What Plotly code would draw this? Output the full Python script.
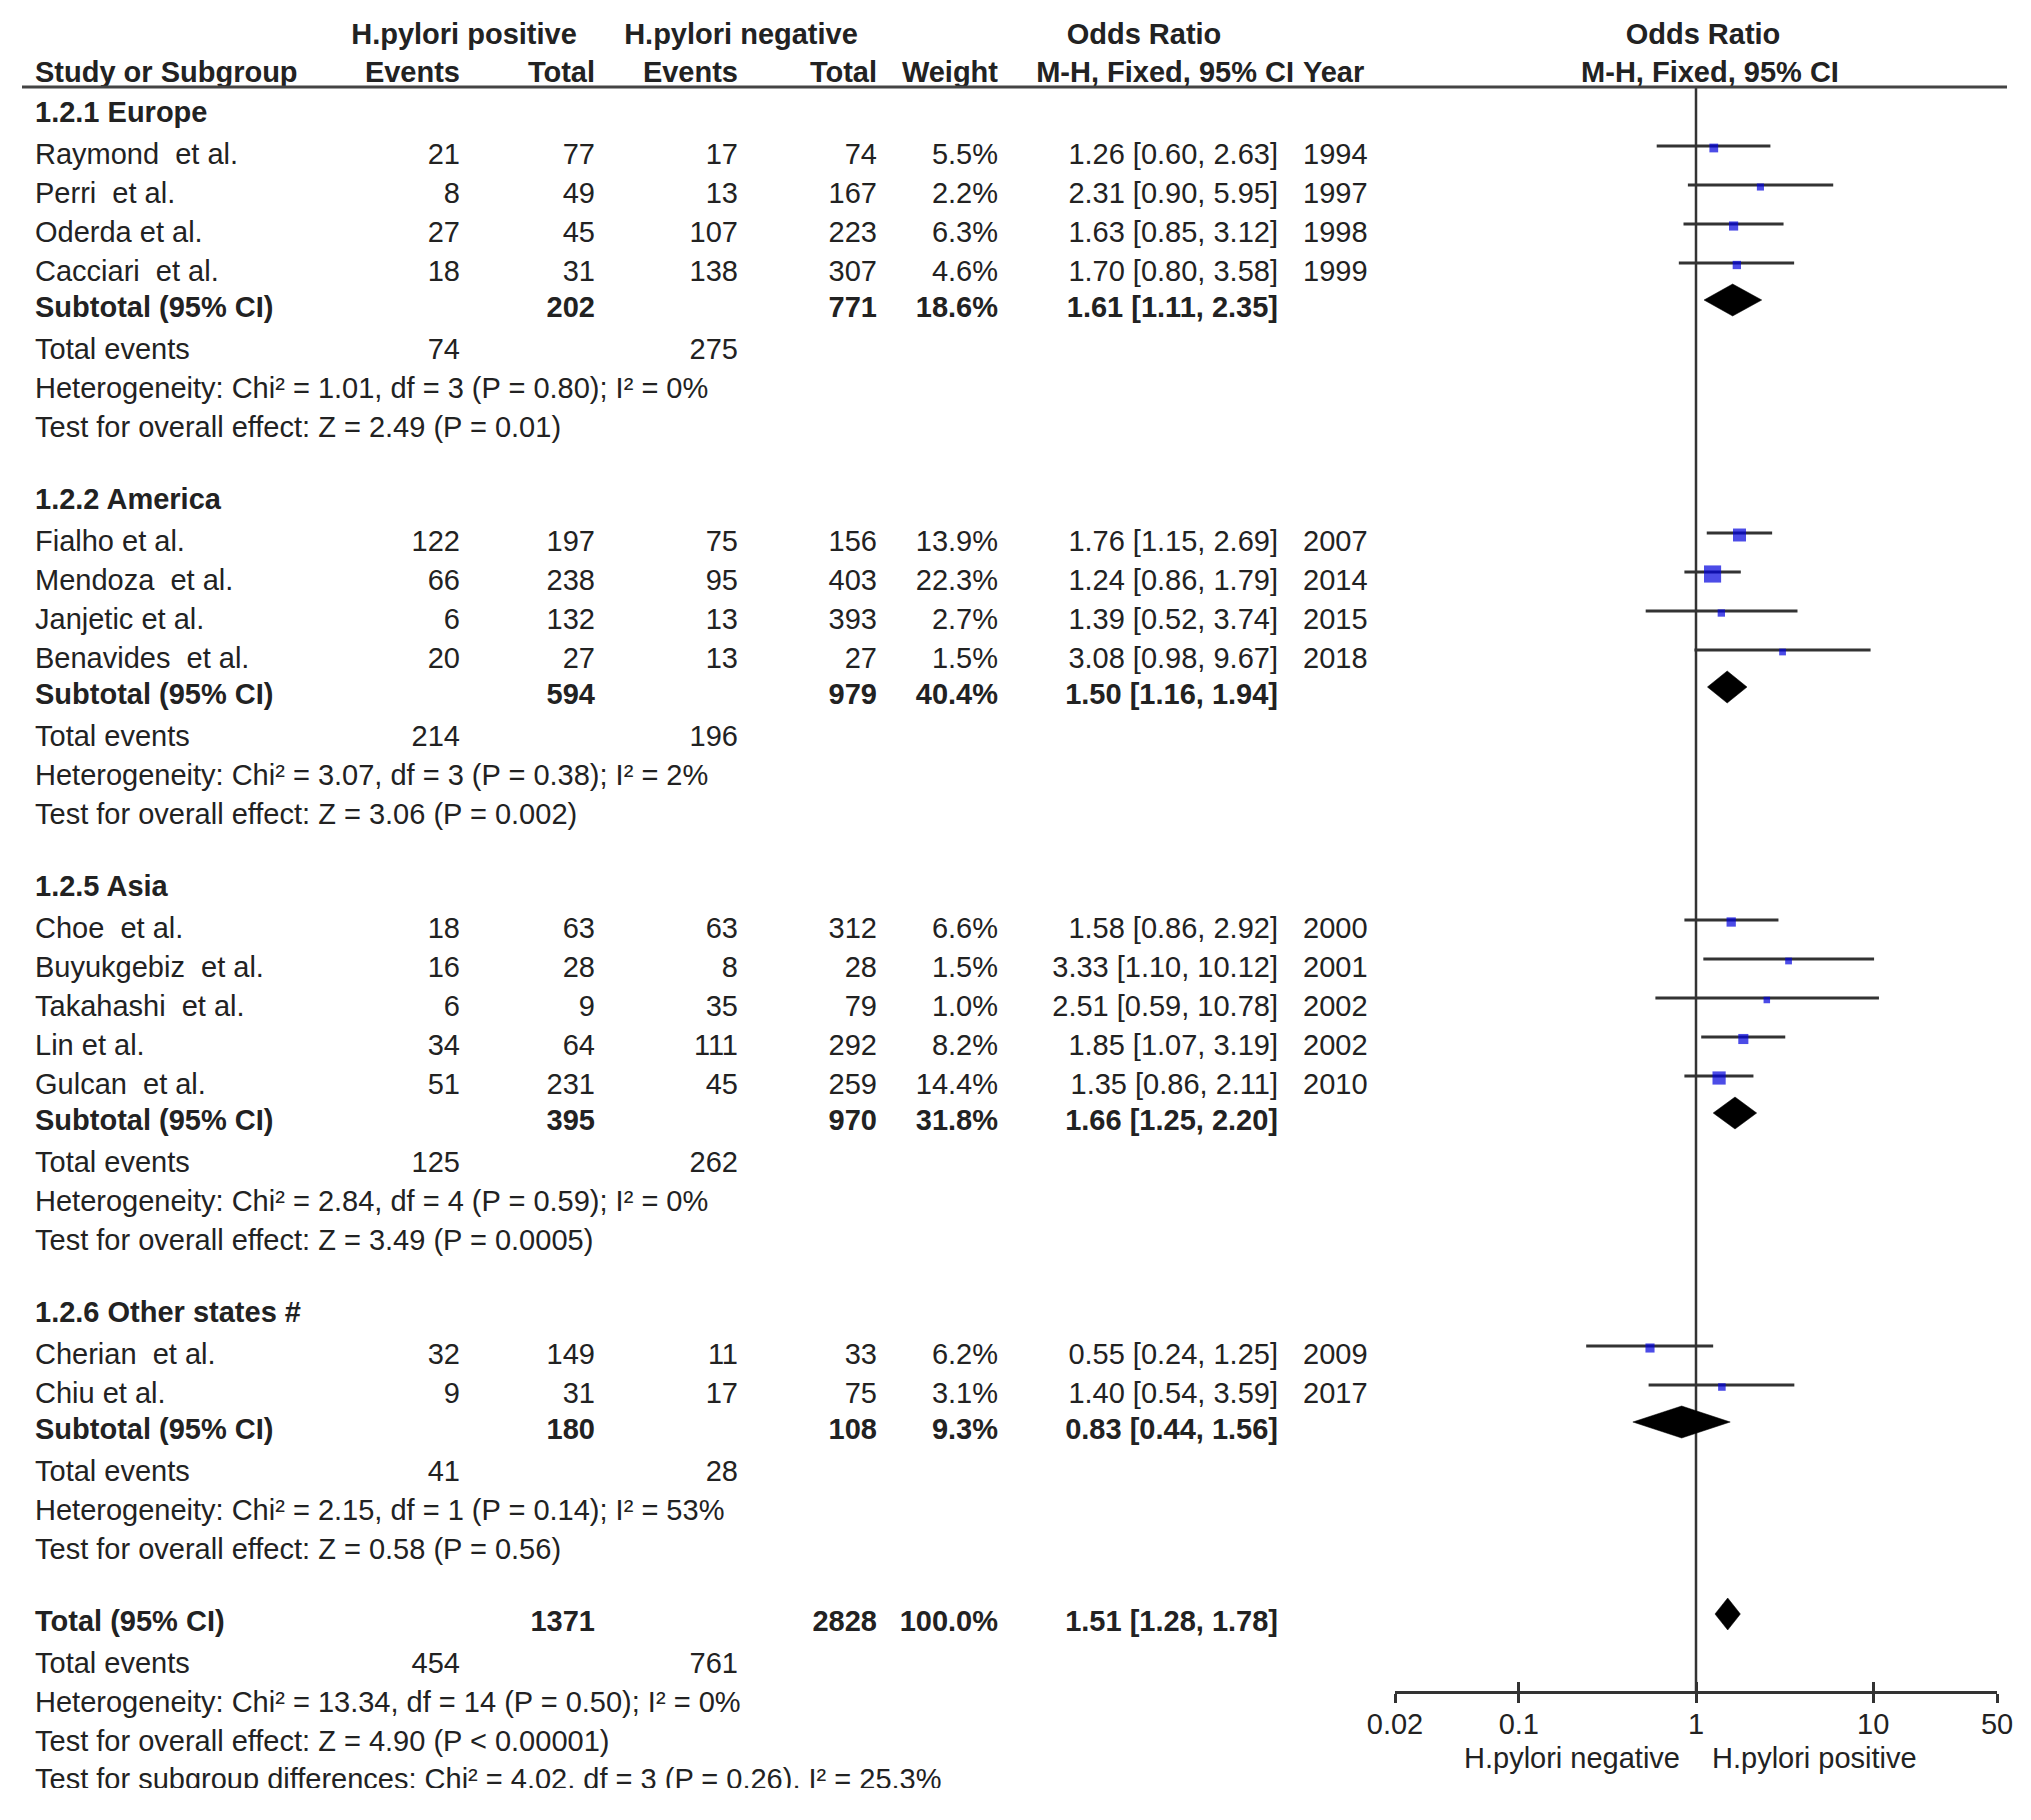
import math
import plotly.graph_objects as go

# ---------------- data ----------------
group_labels = ["1.2.1 Europe", "1.2.2 America", "1.2.5 Asia", "1.2.6 Other states #"]
group_sizes = [4, 4, 5, 2]

study_names = ["Raymond  et al.", "Perri  et al.", "Oderda et al.", "Cacciari  et al.",
               "Fialho et al.", "Mendoza  et al.", "Janjetic et al.", "Benavides  et al.",
               "Choe  et al.", "Buyukgebiz  et al.", "Takahashi  et al.", "Lin et al.",
               "Gulcan  et al.", "Cherian  et al.", "Chiu et al."]
pos_events = [21, 8, 27, 18, 122, 66, 6, 20, 18, 16, 6, 34, 51, 32, 9]
pos_total = [77, 49, 45, 31, 197, 238, 132, 27, 63, 28, 9, 64, 231, 149, 31]
neg_events = [17, 13, 107, 138, 75, 95, 13, 13, 63, 8, 35, 111, 45, 11, 17]
neg_total = [74, 167, 223, 307, 156, 403, 393, 27, 312, 28, 79, 292, 259, 33, 75]
weights = [5.5, 2.2, 6.3, 4.6, 13.9, 22.3, 2.7, 1.5, 6.6, 1.5, 1.0, 8.2, 14.4, 6.2, 3.1]
odds = [1.26, 2.31, 1.63, 1.70, 1.76, 1.24, 1.39, 3.08, 1.58, 3.33, 2.51, 1.85, 1.35, 0.55, 1.40]
ci_low = [0.60, 0.90, 0.85, 0.80, 1.15, 0.86, 0.52, 0.98, 0.86, 1.10, 0.59, 1.07, 0.86, 0.24, 0.54]
ci_high = [2.63, 5.95, 3.12, 3.58, 2.69, 1.79, 3.74, 9.67, 2.92, 10.12, 10.78, 3.19, 2.11, 1.25, 3.59]
years = [1994, 1997, 1998, 1999, 2007, 2014, 2015, 2018, 2000, 2001, 2002, 2002, 2010, 2009, 2017]

sub_pos_total = [202, 594, 395, 180]
sub_neg_total = [771, 979, 970, 108]
sub_weight = [18.6, 40.4, 31.8, 9.3]
sub_odds = [1.61, 1.50, 1.66, 0.83]
sub_low = [1.11, 1.16, 1.25, 0.44]
sub_high = [2.35, 1.94, 2.20, 1.56]
sub_events_pos = [74, 214, 125, 41]
sub_events_neg = [275, 196, 262, 28]
sub_het = ["Heterogeneity: Chi² = 1.01, df = 3 (P = 0.80); I² = 0%",
           "Heterogeneity: Chi² = 3.07, df = 3 (P = 0.38); I² = 2%",
           "Heterogeneity: Chi² = 2.84, df = 4 (P = 0.59); I² = 0%",
           "Heterogeneity: Chi² = 2.15, df = 1 (P = 0.14); I² = 53%"]
sub_effect = ["Test for overall effect: Z = 2.49 (P = 0.01)",
              "Test for overall effect: Z = 3.06 (P = 0.002)",
              "Test for overall effect: Z = 3.49 (P = 0.0005)",
              "Test for overall effect: Z = 0.58 (P = 0.56)"]

total_pos = 1371
total_neg = 2828
total_weight = 100.0
total_odds, total_low, total_high = 1.51, 1.28, 1.78
total_events_pos, total_events_neg = 454, 761
total_het = "Heterogeneity: Chi² = 13.34, df = 14 (P = 0.50); I² = 0%"
total_effect = "Test for overall effect: Z = 4.90 (P < 0.00001)"
subgroup_test = "Test for subgroup differences: Chi² = 4.02, df = 3 (P = 0.26), I² = 25.3%"

axis_ticks = [0.02, 0.1, 1, 10, 50]
axis_ticktext = ["0.02", "0.1", "1", "10", "50"]
favours_left = "H.pylori negative"
favours_right = "H.pylori positive"

# ---------------- layout constants (pixels) ----------------
W, H = 2031, 1820
OFF = 8  # default body margin of the html page
FONT = "Liberation Sans, Arial, sans-serif"
FS = 29
TXT = "#222222"
LINE = "#333333"
AXIS_Y = 1691
HEAD_LINE_Y = 87

# column x (pixel) and alignment
cols = {
    "label": (35, "middle right"),
    "pe": (460, "middle left"),
    "pt": (595, "middle left"),
    "ne": (738, "middle left"),
    "nt": (877, "middle left"),
    "w": (998, "middle left"),
    "or": (1278, "middle left"),
    "year": (1303, "middle right"),
}
cells = {k: ([], []) for k in cols}


def put(col, y, text, bold=False):
    cells[col][0].append(y)
    cells[col][1].append("<b>%s</b>" % text if bold else str(text))


def fmt_or(o, lo, hi):
    return "%.2f [%.2f, %.2f]" % (o, lo, hi)


# rows
study_y, sub_y = [], []
y = 115
idx = 0
for g, label in enumerate(group_labels):
    put("label", y, label, bold=True)
    y += 42
    for k in range(group_sizes[g]):
        put("label", y, study_names[idx])
        put("pe", y, pos_events[idx])
        put("pt", y, pos_total[idx])
        put("ne", y, neg_events[idx])
        put("nt", y, neg_total[idx])
        put("w", y, "%.1f%%" % weights[idx])
        put("or", y, fmt_or(odds[idx], ci_low[idx], ci_high[idx]))
        put("year", y, years[idx])
        study_y.append(y)
        idx += 1
        y += 39
    y -= 3
    put("label", y, "Subtotal (95% CI)", bold=True)
    put("pt", y, sub_pos_total[g], bold=True)
    put("nt", y, sub_neg_total[g], bold=True)
    put("w", y, "%.1f%%" % sub_weight[g], bold=True)
    put("or", y, fmt_or(sub_odds[g], sub_low[g], sub_high[g]), bold=True)
    sub_y.append(y)
    y += 42
    put("label", y, "Total events")
    put("pe", y, sub_events_pos[g])
    put("ne", y, sub_events_neg[g])
    y += 39
    put("label", y, sub_het[g])
    y += 39
    put("label", y, sub_effect[g])
    y += 72

put("label", y, "Total (95% CI)", bold=True)
put("pt", y, total_pos, bold=True)
put("nt", y, total_neg, bold=True)
put("w", y, "%.1f%%" % total_weight, bold=True)
put("or", y, fmt_or(total_odds, total_low, total_high), bold=True)
total_y = y
y += 42
put("label", y, "Total events")
put("pe", y, total_events_pos)
put("ne", y, total_events_neg)
y += 39
put("label", y, total_het)
y += 39
put("label", y, total_effect)
y += 38
put("label", y, subgroup_test)

fig = go.Figure()

# table text
for key, (cx, tpos) in cols.items():
    ys, texts = cells[key]
    fig.add_trace(go.Scatter(
        x=[cx] * len(ys), y=ys, text=texts, mode="text",
        textposition=tpos, textfont=dict(family=FONT, size=FS, color=TXT),
        hoverinfo="skip", showlegend=False, xaxis="x", yaxis="y"))

# headers
head1 = [("H.pylori positive", 464), ("H.pylori negative", 741),
         ("Odds Ratio", 1144), ("Odds Ratio", 1703)]
fig.add_trace(go.Scatter(
    x=[h[1] for h in head1], y=[37] * len(head1),
    text=["<b>%s</b>" % h[0] for h in head1], mode="text", textposition="middle center",
    textfont=dict(family=FONT, size=FS, color=TXT), hoverinfo="skip", showlegend=False))
head2 = [("Study or Subgroup", 35, "middle right"), ("Events", 460, "middle left"),
         ("Total", 595, "middle left"), ("Events", 738, "middle left"),
         ("Total", 877, "middle left"), ("Weight", 998, "middle left"),
         ("M-H, Fixed, 95% CI", 1294, "middle left"), ("Year", 1303, "middle right"),
         ("M-H, Fixed, 95% CI", 1710, "middle center")]
fig.add_trace(go.Scatter(
    x=[h[1] for h in head2], y=[75] * len(head2),
    text=["<b>%s</b>" % h[0] for h in head2], mode="text",
    textposition=[h[2] for h in head2],
    textfont=dict(family=FONT, size=FS, color=TXT), hoverinfo="skip", showlegend=False))

# header rule
fig.add_shape(type="line", xref="x", yref="y", x0=22, x1=2007, y0=HEAD_LINE_Y, y1=HEAD_LINE_Y,
              line=dict(color="#444444", width=3))

# ---------------- forest part (log axis) ----------------
# line of no effect
fig.add_trace(go.Scatter(x=[1, 1], y=[HEAD_LINE_Y, AXIS_Y], mode="lines",
                         line=dict(color=LINE, width=2.5), hoverinfo="skip",
                         showlegend=False, xaxis="x2", yaxis="y2"))

# confidence intervals
cx, cy = [], []
for lo, hi, yy in zip(ci_low, ci_high, study_y):
    cx += [lo, hi, None]
    cy += [yy - 11, yy - 11, None]
fig.add_trace(go.Scatter(x=cx, y=cy, mode="lines", line=dict(color=LINE, width=3),
                         hoverinfo="skip", showlegend=False, xaxis="x2", yaxis="y2"))

# study squares (size grows with the weight)
fig.add_trace(go.Scatter(
    x=odds, y=[yy - 9 for yy in study_y], mode="markers",
    marker=dict(symbol="square", color="#0000dd",
                size=[6 + 0.5 * w for w in weights],
                line=dict(width=0)),
    hoverinfo="skip", showlegend=False, xaxis="x2", yaxis="y2"))

# diamonds
HALF = 16
diamonds = list(zip(sub_low, sub_odds, sub_high, sub_y)) + [(total_low, total_odds, total_high, total_y)]
for lo, o, hi, yy in diamonds:
    yc = yy - 10
    fig.add_trace(go.Scatter(
        x=[lo, o, hi, o, lo], y=[yc, yc - HALF, yc, yc + HALF, yc], mode="lines",
        fill="toself", fillcolor="black", line=dict(color="black", width=0.5),
        hoverinfo="skip", showlegend=False, xaxis="x2", yaxis="y2"))

# dummy trace for inner tick axis
fig.add_trace(go.Scatter(x=[1], y=[AXIS_Y], mode="markers", marker=dict(opacity=0),
                         hoverinfo="skip", showlegend=False, xaxis="x3", yaxis="y2"))

# the source image is cut just below the last text line
fig.add_shape(type="rect", xref="x", yref="y", x0=0, x1=1200, y0=1788, y1=H + OFF,
              fillcolor="white", line=dict(width=0), layer="above")

lr = [math.log10(0.02), math.log10(50)]
fig.update_layout(
    width=W, height=H, margin=dict(l=0, r=0, t=0, b=0, pad=0, autoexpand=False),
    paper_bgcolor="white", plot_bgcolor="rgba(0,0,0,0)",
    xaxis=dict(range=[OFF, W + OFF], domain=[0, 1], visible=False, fixedrange=True,
               automargin=False),
    yaxis=dict(range=[H + OFF, OFF], domain=[0, 1], visible=False, fixedrange=True,
               automargin=False),
    xaxis2=dict(type="log", range=lr, domain=[(1395 - OFF) / W, (1997 - OFF) / W], anchor="y2",
                showline=True, linecolor=LINE, linewidth=2.5, showgrid=False, zeroline=False,
                ticks="outside", ticklen=9, tickwidth=2.5, tickcolor=LINE,
                tickvals=axis_ticks, ticktext=axis_ticktext, automargin=False,
                ticklabelstandoff=-4,
                tickfont=dict(family=FONT, size=FS, color=TXT)),
    xaxis3=dict(type="log", range=lr, overlaying="x2", anchor="y2",
                showline=False, showgrid=False, zeroline=False, automargin=False,
                ticks="inside", ticklen=9, tickwidth=2.5, tickcolor=LINE,
                tickvals=axis_ticks, showticklabels=False),
    yaxis2=dict(range=[AXIS_Y, OFF], domain=[(H - AXIS_Y + OFF) / H, 1], anchor="x2",
                visible=False, fixedrange=True, automargin=False),
    showlegend=False,
)

# favours labels under the axis
fig.add_annotation(x=0, y=1758, xref="x2", yref="y", text=favours_left, showarrow=False,
                   xanchor="right", xshift=-14, font=dict(family=FONT, size=FS, color=TXT))
fig.add_annotation(x=0, y=1758, xref="x2", yref="y", text=favours_right, showarrow=False,
                   xanchor="left", xshift=14, font=dict(family=FONT, size=FS, color=TXT))

fig.write_html("out.html")
